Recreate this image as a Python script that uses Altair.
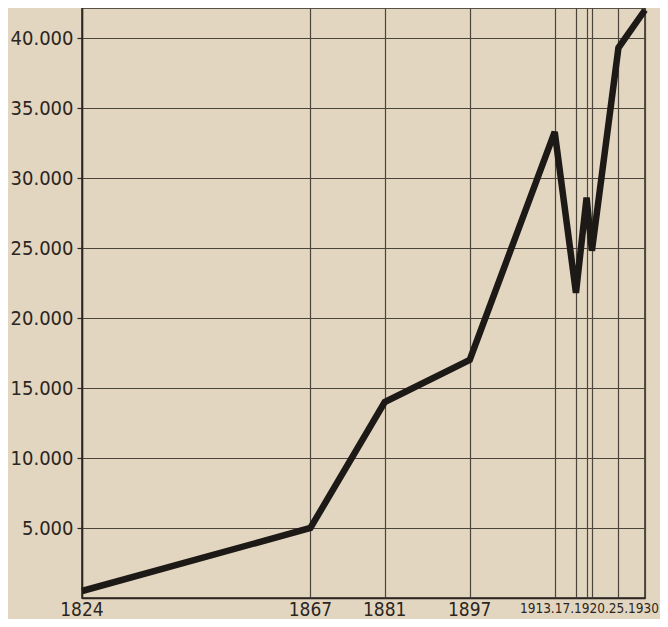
import altair as alt
import pandas as pd

years = [1824, 1867, 1881, 1897, 1913, 1917, 1919, 1920, 1925, 1930]
values = [500, 5000, 14000, 17000, 33300, 21800, 28600, 24800, 39300, 42000]
year_labels = ["1824", "1867", "1881", "1897", "1913.", "17.", "19", "20.", "25.", "1930"]
y_ticks = [5000, 10000, 15000, 20000, 25000, 30000, 35000, 40000]

df = pd.DataFrame({"year": years, "value": values})
# the first four years get their own centred labels; the crowded ones from 1913
# on are printed as one run of text ending at the 1930 line, as in the original
sparse = pd.DataFrame({"year": years[:4], "label": year_labels[:4]})
dense = pd.DataFrame({"year": [years[-1]], "label": ["".join(year_labels[4:])]})

ink = "#2b2621"
grid = "#4b443b"
paper = "#e3d6c0"
font = "DejaVu Sans Condensed"

xscale = alt.Scale(domain=[1824, 1930], nice=False, zero=False)
yscale = alt.Scale(domain=[0, 42143], nice=False)

line = alt.Chart(df).mark_line(
    color="#1c1916", strokeWidth=6.5, strokeJoin="miter", strokeCap="butt"
).encode(
    x=alt.X("year:Q", scale=xscale,
            axis=alt.Axis(values=years, title=None, grid=True, gridColor=grid,
                          gridOpacity=1, gridWidth=1.2, ticks=False, labels=False,
                          domainColor=ink, domainWidth=1.5)),
    y=alt.Y("value:Q", scale=yscale,
            axis=alt.Axis(values=y_ticks, title=None, grid=True, gridColor=grid,
                          gridOpacity=1, gridWidth=1.2, tickColor=ink, tickSize=5,
                          tickWidth=1.2, domainColor=ink, domainWidth=1.5,
                          labelExpr="replace(format(datum.value, ','), ',', '.')",
                          labelFont=font, labelFontSize=20, labelColor=ink,
                          labelPadding=4)),
)

sparse_text = alt.Chart(sparse).mark_text(
    dy=3, baseline="top", align="center", font=font, fontSize=19, color=ink
).encode(
    x=alt.X("year:Q", scale=xscale),
    y=alt.YDatum(0),
    text="label:N",
)

dense_text = alt.Chart(dense).mark_text(
    dx=14, dy=4, baseline="top", align="right", font=font, fontSize=13.5, color=ink
).encode(
    x=alt.X("year:Q", scale=xscale),
    y=alt.YDatum(0),
    text="label:N",
)

chart = alt.layer(line, sparse_text, dense_text).properties(
    width=563, height=590,
    autosize=alt.AutoSizeParams(type="none"),
    padding={"left": 74, "top": 0, "right": 15, "bottom": 21},
    background=paper,
).configure_view(
    stroke=ink, strokeWidth=1.5, fill=paper
)

chart.save("out.html", embed_options={"renderer": "svg", "actions": False})
